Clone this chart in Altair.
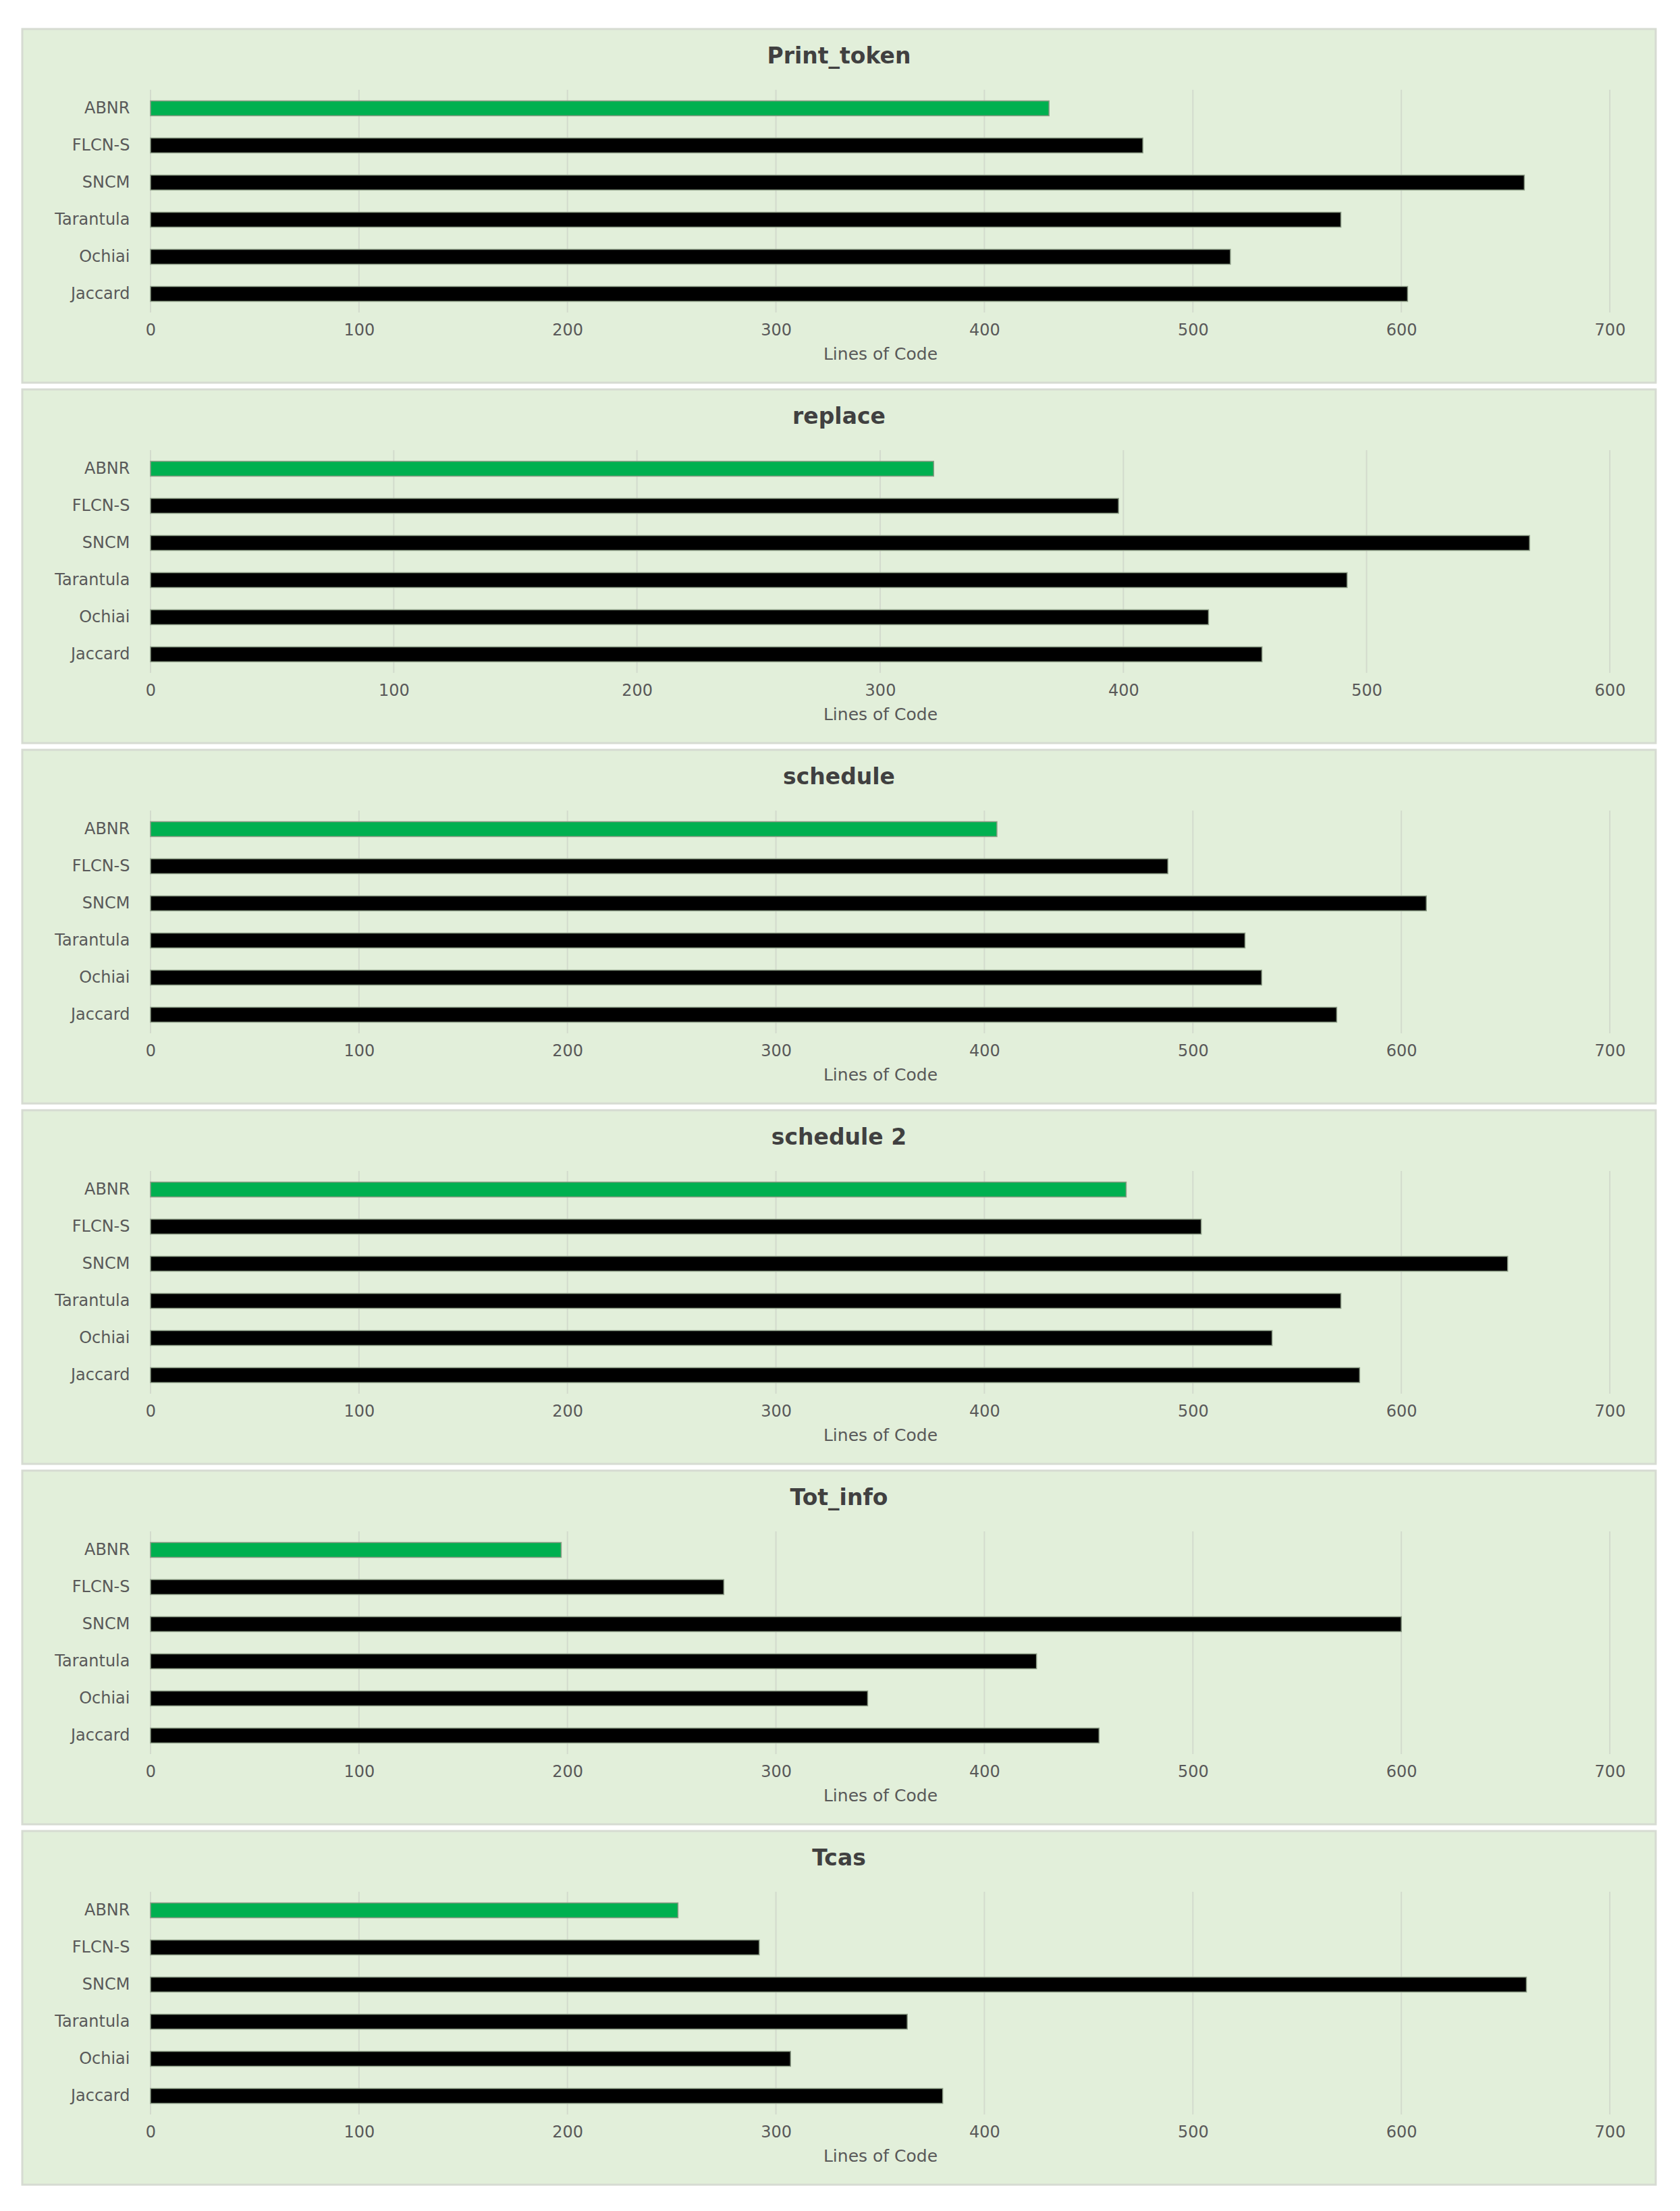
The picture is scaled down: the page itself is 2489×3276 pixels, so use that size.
import altair as alt
import pandas as pd

programs = ["Print_token", "replace", "schedule", "schedule 2", "Tot_info", "Tcas"]
techniques = ["ABNR", "FLCN-S", "SNCM", "Tarantula", "Ochiai", "Jaccard"]

print_token = [431, 476, 659, 571, 518, 603]
replace = [322, 398, 567, 492, 435, 457]
schedule = [406, 488, 612, 525, 533, 569]
schedule_2 = [468, 504, 651, 571, 538, 580]
tot_info = [197, 275, 600, 425, 344, 455]
tcas = [253, 292, 660, 363, 307, 380]

ticks_700 = [0, 100, 200, 300, 400, 500, 600, 700]
ticks_600 = [0, 100, 200, 300, 400, 500, 600]
axis_max = [700, 600, 700, 700, 700, 700]
axis_ticks = [ticks_700, ticks_600, ticks_700, ticks_700, ticks_700, ticks_700]
series = [print_token, replace, schedule, schedule_2, tot_info, tcas]
x_title = "Lines of Code"
bar_colors = ["#00b050", "#000000", "#000000", "#000000", "#000000", "#000000"]

FONT = "DejaVu Sans"
TEXT_COLOR = "#595959"
W, H = 2162, 330
BG_LEFT, BG_RIGHT = -190, W + 68
BG_TOP, BG_BOTTOM = -90, H + 104
TITLE_X, TITLE_Y = 1020, -49


def panel(name, vals, xmax, ticks):
    df = pd.DataFrame({"technique": techniques, "loc": vals})
    xscale = alt.Scale(domain=[0, xmax], nice=False)
    xaxis = alt.Axis(
        values=ticks, title=x_title, grid=False, ticks=False, domain=False,
        labelFlush=False, labelFontSize=24, labelColor=TEXT_COLOR,
        labelPadding=14, labelFont=FONT,
        titleFontSize=25, titleColor=TEXT_COLOR, titleFontWeight="normal",
        titlePadding=11, titleFont=FONT, zindex=1,
    )
    xenc = alt.X("loc:Q", scale=xscale, axis=xaxis)

    bg = alt.Chart(alt.Data(values=[{}])).mark_rect(
        fill="#e2efda", stroke="#d6dbd2", strokeWidth=3
    ).encode(
        x=alt.value(BG_LEFT), x2=alt.value(BG_RIGHT),
        y=alt.value(BG_TOP), y2=alt.value(BG_BOTTOM),
    )
    grid = alt.Chart(pd.DataFrame({"loc": ticks})).mark_rule(
        color="#d3dbcd", strokeWidth=2
    ).encode(x=xenc, y=alt.value(0), y2=alt.value(H))
    bars = alt.Chart(df).mark_bar(stroke="#8a9a84", strokeWidth=1.5).encode(
        x=xenc,
        y=alt.Y(
            "technique:N", sort=techniques,
            scale=alt.Scale(paddingInner=0.6, paddingOuter=0.3),
            axis=alt.Axis(
                title=None, ticks=False, domain=False, labelFontSize=24,
                labelColor=TEXT_COLOR, labelPadding=31, labelFont=FONT, zindex=1,
            ),
        ),
        color=alt.Color(
            "technique:N", scale=alt.Scale(domain=techniques, range=bar_colors),
            legend=None,
        ),
    )
    title = alt.Chart(alt.Data(values=[{}])).mark_text(
        text=name, fontSize=33, fontWeight="bold", color="#404040",
        align="center", baseline="middle", font=FONT,
    ).encode(x=alt.value(TITLE_X), y=alt.value(TITLE_Y))
    return alt.layer(bg, grid, bars, title).properties(width=W, height=H)


panels = [
    panel(n, v, m, t)
    for n, v, m, t in zip(programs, series, axis_max, axis_ticks)
]

chart = alt.vconcat(*panels, spacing=6).properties(
    padding={"left": 23, "top": 33, "right": 5, "bottom": 5}
).configure_view(stroke=None).configure(font=FONT)

chart.save("out.html", embed_options={"renderer": "svg", "actions": False})
